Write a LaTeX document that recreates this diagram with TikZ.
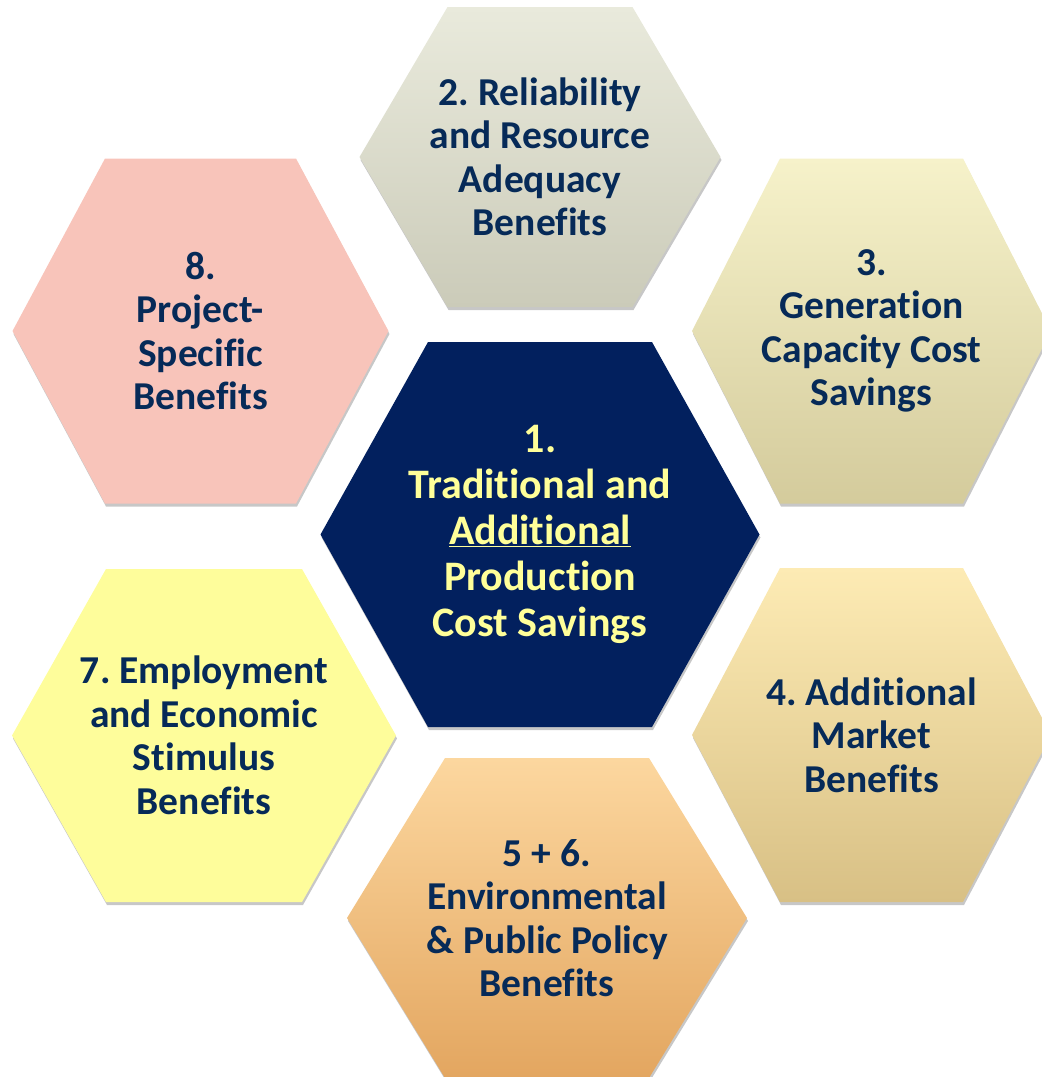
\documentclass[tikz,border=0pt]{standalone}
\usepackage{fontspec}
\setmainfont{Carlito}[Ligatures={NoCommon}]
\frenchspacing
\usetikzlibrary{shadows}

\definecolor{benefitblue}{HTML}{062A58}
\definecolor{corenavy}{HTML}{02205E}
\definecolor{coretext}{HTML}{FFFF99}
\definecolor{reliabilitytop}{HTML}{E9EADC}
\definecolor{reliabilitybot}{HTML}{CBCBB9}
\definecolor{capacitytop}{HTML}{F6F2CA}
\definecolor{capacitybot}{HTML}{D4CB9C}
\definecolor{projectfill}{HTML}{F8C4BA}
\definecolor{employmentfill}{HTML}{FEFD9B}
\definecolor{markettop}{HTML}{FDEBB4}
\definecolor{marketbot}{HTML}{D8C085}
\definecolor{policytop}{HTML}{FCD79F}
\definecolor{policybot}{HTML}{E3A660}

\tikzset{
  hexshadow/.style={drop shadow={shadow xshift=1pt, shadow yshift=-3pt, fill=black, opacity=0.22}},
  celltext/.style={align=center, inner sep=0pt, text=benefitblue,
    font=\bfseries\fontsize{39.5}{43.5}\selectfont},
  coretext/.style={celltext, text=coretext, font=\bfseries\fontsize{42}{46}\selectfont}
}

% name, cx, cy, half width, half top width, half height, top colour, bottom colour, text
\newcommand{\hexcell}[9]{%
  \path[hexshadow, top color=#7, bottom color=#8]
    (#2-#4,#3) -- (#2-#5,#3-#6) -- (#2+#5,#3-#6) -- (#2+#4,#3)
    -- (#2+#5,#3+#6) -- (#2-#5,#3+#6) -- cycle;
  \node[celltext] (#1) at (#2,#3) {#9};
}

\begin{document}
\begin{tikzpicture}[x=1pt,y=-1pt]
  \useasboundingbox (0,0) rectangle (1042,1077);
  \clip (0,0) rectangle (1042,1077);

  \hexcell{reliability}{540}{157}{180.5}{92.5}{150}{reliabilitytop}{reliabilitybot}%
    {2. Reliability\\and Resource\\Adequacy\\Benefits}
  \hexcell{capacity}{871.5}{331}{179.5}{91.5}{172.5}{capacitytop}{capacitybot}%
    {3.\\Generation\\Capacity Cost\\Savings}
  \hexcell{project}{200.5}{331}{188}{95.5}{172.5}{projectfill}{projectfill}%
    {8.\\Project-\\Specific\\Benefits}
  \hexcell{employment}{204}{735.5}{192}{98}{166.5}{employmentfill}{employmentfill}%
    {7. Employment\\and Economic\\Stimulus\\Benefits}
  \hexcell{market}{871.5}{735}{179.5}{91.5}{167}{markettop}{marketbot}%
    {4. Additional\\Market\\Benefits}
  \hexcell{policy}{547}{918}{200}{102}{160}{policytop}{policybot}%
    {5 + 6.\\Environmental\\\& Public Policy\\Benefits}

  \path[hexshadow, fill=corenavy]
    (320.5,534.5) -- (428,342) -- (652,342) -- (759.5,534.5)
    -- (652,727) -- (428,727) -- cycle;
  \node[coretext] (production) at (540,534.5)
    {1.\\Traditional and\\\underline{Additional}\\Production\\Cost Savings};
\end{tikzpicture}
\end{document}
